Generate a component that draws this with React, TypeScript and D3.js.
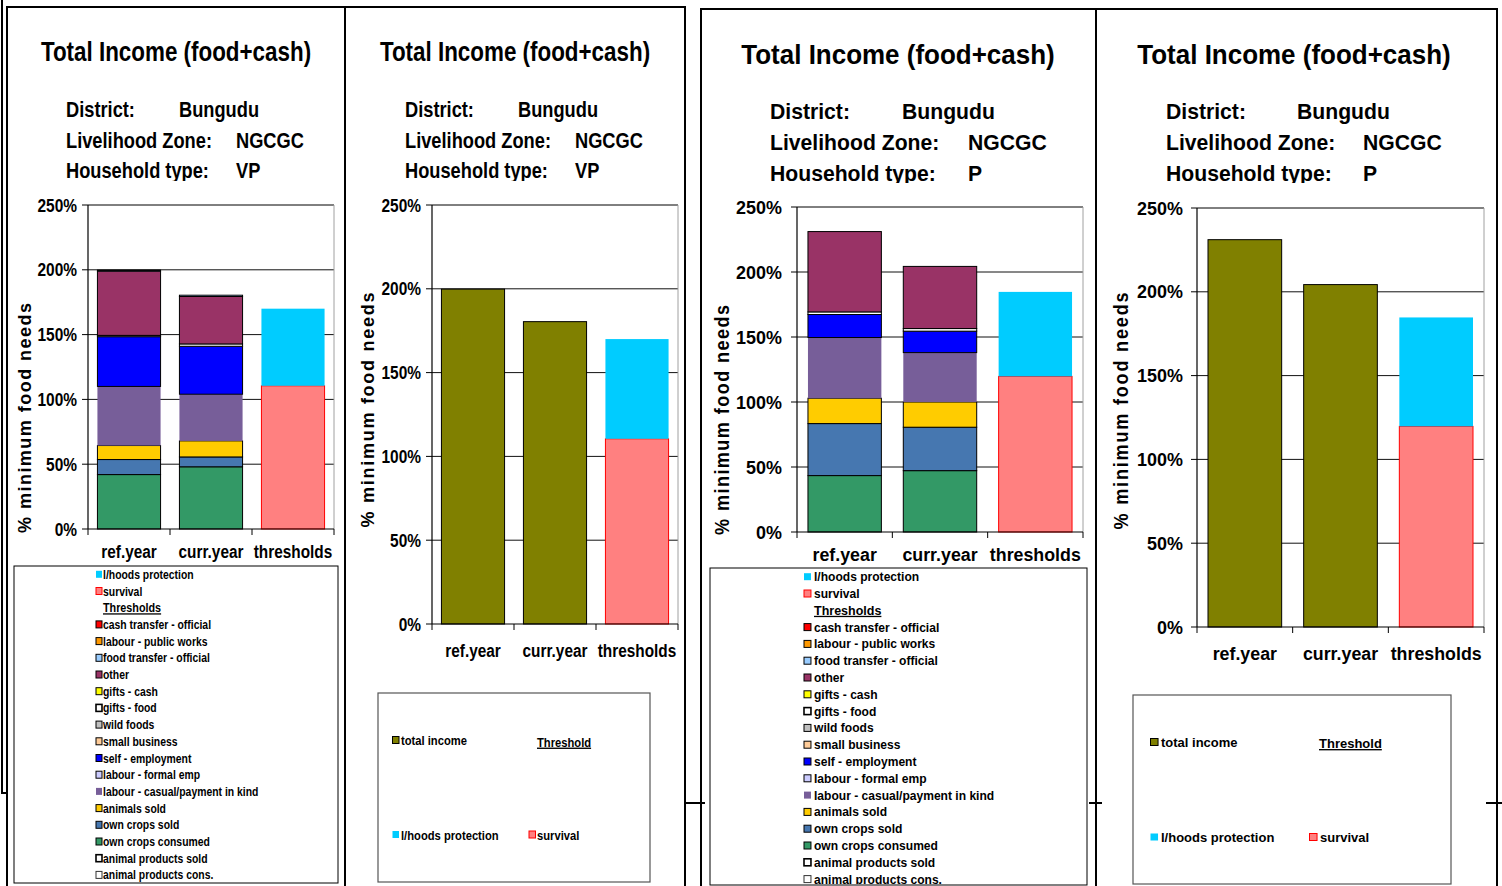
import React from 'react';
import * as d3 from 'd3';

// ---------------- DATA ----------------
const CATEGORIES = ['ref.year', 'curr.year', 'thresholds'];
const TITLE = 'Total Income (food+cash)';
const DISTRICT = 'Bungudu';
const ZONE = 'NGCGC';
const HH_TYPES = ['VP', 'P'];
const Y_TICKS = [0, 50, 100, 150, 200, 250];

// income sources, stacking order bottom -> top
const SOURCES = [
  'animal products cons.', 'animal products sold', 'own crops consumed', 'own crops sold',
  'animals sold', 'labour - casual/payment in kind', 'labour - formal emp', 'self - employment',
  'small business', 'wild foods', 'gifts - food', 'gifts - cash', 'other',
  'food transfer - official', 'labour - public works', 'cash transfer - official',
];
const SOURCE_COLORS = [
  '#FFFFFF', '#FFFFFF', '#339966', '#4677B0',
  '#FFCC00', '#775E99', '#CCCCFF', '#0000FF',
  '#FFCC99', '#C0C0C0', '#FFFFFF', '#FFFF00', '#993366',
  '#99CCFF', '#FF9900', '#FF0000',
];
// % of minimum food needs, same order as SOURCES
const VP_REF = [0, 0, 42, 11.6, 10.8, 45.6, 0, 38.4, 0, 0, 1, 0, 49.6, 0.8, 0, 0];
const VP_CURR = [0, 0, 48, 7.6, 12.4, 36, 0, 37, 0, 0, 1.8, 0, 36.6, 1, 0, 0];
const P_REF = [0, 0, 43.4, 40, 19.5, 46.7, 0, 17.7, 0, 0, 2, 0, 61.8, 0, 0, 0];
const P_CURR = [0, 0, 47.2, 33.4, 19.4, 38, 0, 16.5, 0, 0, 2, 0, 47.8, 0, 0, 0];
// thresholds: [survival, l/hoods protection (on top of survival)]
const VP_THRESH = [110.5, 59.5];
const P_THRESH = [119.7, 65];

const THRESH_KEYS = ['survival', 'l/hoods protection'];
const THRESH_COLORS = ['#FF8080', '#00CCFF'];
const TOTAL_KEY = 'total income';
const TOTAL_COLOR = '#808000';

// legend order (top -> bottom) of the stacked charts
const STACK_LEGEND = ['l/hoods protection', 'survival', '__Thresholds', ...SOURCES.slice().reverse()];

// ---------------- STYLE HELPERS ----------------
const FONT = "'Liberation Sans',Arial,sans-serif";
const NF = 0.83; // narrow-font horizontal compression

function colorOf(key: string) {
  const i = SOURCES.indexOf(key);
  if (i >= 0) return SOURCE_COLORS[i];
  const j = THRESH_KEYS.indexOf(key);
  if (j >= 0) return THRESH_COLORS[j];
  return TOTAL_COLOR;
}
function strokeOf(key: string) {
  if (key === 'l/hoods protection' || key === 'labour - casual/payment in kind') return 'none';
  if (key === 'survival') return '#FF0000';
  return '#000';
}

function T(props: any) {
  const { x, y, sx = 1, nf = NF, anchor = 'start', size = 12, weight = 'bold', children, underline, transform } = props;
  return (
    <text
      transform={transform || `translate(${x},${y}) scale(${sx * nf},1)`}
      textAnchor={anchor}
      fontSize={size}
      fontWeight={weight}
      fontFamily={FONT}
      fill="#000"
      textDecoration={underline ? 'underline' : undefined}
      textLength={props.textLength}
      lengthAdjust={props.textLength ? 'spacing' : undefined}
    >
      {children}
    </text>
  );
}

// ---------------- PANEL ----------------
function Header({ cfg, hh, id }: any) {
  const labels = ['District:', 'Livelihood Zone:', 'Household type:'];
  const vals = [DISTRICT, ZONE, hh];
  return (
    <g>
      <T x={cfg.titleX} y={cfg.titleY} sx={cfg.sx} nf={0.8} anchor="middle" size={28}>{TITLE}</T>
      <clipPath id={id}><rect x={cfg.lx - 10} y={cfg.infoY[0] - 30} width={400} height={cfg.clipY - cfg.infoY[0] + 30} /></clipPath>
      <g clipPath={`url(#${id})`}>
        {labels.map((l, i) => (
          <g key={l}>
            <T x={cfg.lx} y={cfg.infoY[i]} sx={cfg.sx} size={22}>{l}</T>
            <T x={cfg.vx[i]} y={cfg.infoY[i]} sx={cfg.sx} size={22}>{vals[i]}</T>
          </g>
        ))}
      </g>
    </g>
  );
}

function Plot({ cfg, rows, keys }: any) {
  const y = d3.scaleLinear().domain([0, 250]).range([cfg.yBot, cfg.yTop]);
  const x = d3.scaleBand().domain(CATEGORIES).range([cfg.x0, cfg.x1]).paddingInner(0.23).paddingOuter(0.115);
  const stacked = d3.stack().keys(keys)(rows);
  const step = (cfg.x1 - cfg.x0) / CATEGORIES.length;
  const boundaries = d3.range(CATEGORIES.length + 1).map((i) => cfg.x0 + i * step);
  return (
    <g>
      {Y_TICKS.filter((t) => t > 0 && t < 250).map((t) => (
        <line key={t} x1={cfg.x0} x2={cfg.x1} y1={y(t)} y2={y(t)} stroke="#111" strokeWidth={1} />
      ))}
      <line x1={cfg.x0} x2={cfg.x1} y1={y(250)} y2={y(250)} stroke="#000" strokeWidth={1} />
      <line x1={cfg.x1} x2={cfg.x1} y1={y(250)} y2={y(0)} stroke="#A0A0A0" strokeWidth={1} />
      {stacked.map((s: any) => (
        <g key={s.key}>
          {s.map((d: any, i: number) => {
            const h = y(d[0]) - y(d[1]);
            if (h <= 0.01) return null;
            return (
              <rect key={i} x={x(CATEGORIES[i])} width={x.bandwidth()} y={y(d[1])} height={h}
                fill={colorOf(s.key)} stroke={strokeOf(s.key)} strokeWidth={1} />
            );
          })}
        </g>
      ))}
      <line x1={cfg.x0} x2={cfg.x0} y1={y(250)} y2={y(0)} stroke="#000" strokeWidth={1.2} />
      <line x1={cfg.x0} x2={cfg.x1} y1={y(0)} y2={y(0)} stroke="#000" strokeWidth={1.2} />
      {Y_TICKS.map((t) => (
        <g key={t}>
          <line x1={cfg.x0 - 6} x2={cfg.x0} y1={y(t)} y2={y(t)} stroke="#000" />
          <T x={cfg.tickRight} y={y(t) + 6.5} sx={cfg.sx} nf={0.86} anchor="end" size={18}>{`${t}%`}</T>
        </g>
      ))}
      {boundaries.map((b, i) => (
        <line key={i} x1={b} x2={b} y1={y(0)} y2={y(0) + 6} stroke="#000" />
      ))}
      {CATEGORIES.map((c) => (
        <T key={c} x={(x(c) as number) + x.bandwidth() / 2} y={cfg.xLabelY} sx={cfg.sx} anchor="middle" size={18.5}>{c}</T>
      ))}
      <T transform={`translate(${cfg.ytX},${cfg.ytY}) scale(${cfg.sx},1) rotate(-90)`} anchor="middle" size={18}
        textLength={cfg.ytLen}>% minimum food needs</T>
    </g>
  );
}

function Swatch({ x, y, w, key2 }: any) {
  const fill = colorOf(key2);
  let stroke = strokeOf(key2);
  let sw = 1;
  if (key2 === 'gifts - food' || key2 === 'animal products sold') sw = 1.6;
  if (key2 === 'animal products cons.') stroke = '#333';
  return <rect x={x} y={y - 3.5} width={w} height={7} fill={fill} stroke={stroke} strokeWidth={stroke === 'none' ? 0 : sw} />;
}

function StackLegend({ lg, sx, id }: any) {
  return (
    <g>
      <rect x={lg.x} y={lg.y} width={lg.w} height={lg.h} fill="#fff" stroke="#000" strokeWidth={1} />
      <clipPath id={id}><rect x={lg.x} y={lg.y} width={lg.w} height={lg.h - 1} /></clipPath>
      <g clipPath={`url(#${id})`}>
        {STACK_LEGEND.map((k, i) => {
          const cy = lg.y0 + i * lg.step;
          if (k === '__Thresholds') {
            return <T key={k} x={lg.tx} y={cy + 4.5} sx={sx} size={13} underline>Thresholds</T>;
          }
          return (
            <g key={k}>
              <Swatch x={lg.sw} y={cy} w={6 * sx} key2={k} />
              <T x={lg.tx} y={cy + 4.5} sx={sx} nf={0.8} size={13}>{k}</T>
            </g>
          );
        })}
      </g>
    </g>
  );
}

function TotalLegend({ lg, sx }: any) {
  return (
    <g>
      <rect x={lg.x} y={lg.y} width={lg.w} height={lg.h} fill="#fff" stroke="#555" strokeWidth={1.2} />
      <Swatch x={lg.items[0][0]} y={lg.items[0][1]} w={6.5 * sx} key2={TOTAL_KEY} />
      <T x={lg.items[0][2]} y={lg.items[0][1] + 5} sx={sx} size={13.5}>{TOTAL_KEY}</T>
      <T x={lg.items[1][2]} y={lg.items[1][1] + 5} sx={sx} size={13.5} underline>Threshold</T>
      <Swatch x={lg.items[2][0]} y={lg.items[2][1]} w={6.5 * sx} key2="l/hoods protection" />
      <T x={lg.items[2][2]} y={lg.items[2][1] + 5} sx={sx} size={13.5}>l/hoods protection</T>
      <Swatch x={lg.items[3][0]} y={lg.items[3][1]} w={6.5 * sx} key2="survival" />
      <T x={lg.items[3][2]} y={lg.items[3][1] + 5} sx={sx} size={13.5}>survival</T>
    </g>
  );
}

function stackRows(ref: number[], curr: number[], thr: number[]) {
  const mk = (cat: string, vals: number[] | null, t: number[] | null) => {
    const o: any = { cat };
    SOURCES.forEach((s, i) => (o[s] = vals ? vals[i] : 0));
    THRESH_KEYS.forEach((k, i) => (o[k] = t ? t[i] : 0));
    return o;
  };
  return [mk(CATEGORIES[0], ref, null), mk(CATEGORIES[1], curr, null), mk(CATEGORIES[2], null, thr)];
}
function totalRows(ref: number[], curr: number[], thr: number[]) {
  const mk = (cat: string, tot: number, t: number[] | null) => {
    const o: any = { cat };
    o[TOTAL_KEY] = tot;
    THRESH_KEYS.forEach((k, i) => (o[k] = t ? t[i] : 0));
    return o;
  };
  return [mk(CATEGORIES[0], d3.sum(ref), null), mk(CATEGORIES[1], d3.sum(curr), null), mk(CATEGORIES[2], 0, thr)];
}

// ---------------- LAYOUT ----------------
const P1 = { sx: 1, titleX: 176, titleY: 61, lx: 66, vx: [179, 236, 236], infoY: [117, 148, 178], clipY: 181,
  x0: 88, x1: 334, yTop: 205, yBot: 529, tickRight: 77, ytX: 31, ytY: 418, ytLen: 230, xLabelY: 558 };
const P2 = { sx: 1, titleX: 515, titleY: 61, lx: 405, vx: [518, 575, 575], infoY: [117, 148, 178], clipY: 181,
  x0: 432, x1: 678, yTop: 205, yBot: 624, tickRight: 421, ytX: 374, ytY: 410, ytLen: 235, xLabelY: 657 };
const P3 = { sx: 1.16, titleX: 898, titleY: 64, lx: 770, vx: [902, 968, 968], infoY: [119, 150, 181], clipY: 183,
  x0: 797, x1: 1083, yTop: 207, yBot: 532, tickRight: 782, ytX: 729, ytY: 420, ytLen: 230, xLabelY: 561 };
const P4 = { sx: 1.16, titleX: 1294, titleY: 64, lx: 1166, vx: [1297, 1363, 1363], infoY: [119, 150, 181], clipY: 183,
  x0: 1197, x1: 1484, yTop: 208, yBot: 627, tickRight: 1183, ytX: 1128, ytY: 411, ytLen: 237, xLabelY: 660 };

const L1 = { x: 14, y: 566, w: 324, h: 317, sw: 96, tx: 103, y0: 574.3, step: 16.7 };
const L3 = { x: 710, y: 568, w: 377, h: 317, sw: 804, tx: 814, y0: 576.7, step: 16.8 };
const TL2 = { x: 378, y: 693, w: 272, h: 189, items: [[392.5, 740, 401], [0, 741.5, 537], [392.5, 834.5, 401], [529, 834.5, 537]] };
const TL4 = { x: 1133, y: 695, w: 318, h: 189, items: [[1150.5, 742, 1161], [0, 743, 1319], [1150.5, 837, 1161], [1309.5, 837, 1320]] };

export default function App() {
  const keysStack = [...SOURCES, ...THRESH_KEYS];
  const keysTotal = [TOTAL_KEY, ...THRESH_KEYS];
  return (
    <svg width={1502} height={886} style={{ position: 'absolute', left: 0, top: 0, background: '#fff' }}>
      <rect x={0} y={0} width={1502} height={886} fill="#fff" />
      {/* frames */}
      <g stroke="#000" strokeWidth={2} fill="none">
        <path d="M2,0 V793 H7" />
        <line x1={7} y1={6} x2={7} y2={886} />
        <line x1={6} y1={7} x2={686} y2={7} />
        <line x1={345} y1={7} x2={345} y2={886} />
        <line x1={685} y1={7} x2={685} y2={886} />
        <line x1={701} y1={8} x2={701} y2={886} />
        <line x1={700} y1={9} x2={1498} y2={9} />
        <line x1={1096} y1={9} x2={1096} y2={886} />
        <line x1={1497} y1={9} x2={1497} y2={886} />
        <line x1={686} y1={803} x2={705} y2={803} />
        <line x1={1089} y1={803} x2={1102} y2={803} />
        <line x1={1486} y1={803} x2={1502} y2={803} />
      </g>

      <Header cfg={P1} hh={HH_TYPES[0]} id="c1" />
      <Plot cfg={P1} rows={stackRows(VP_REF, VP_CURR, VP_THRESH)} keys={keysStack} />
      <StackLegend lg={L1} sx={1} id="l1" />

      <Header cfg={P2} hh={HH_TYPES[0]} id="c2" />
      <Plot cfg={P2} rows={totalRows(VP_REF, VP_CURR, VP_THRESH)} keys={keysTotal} />
      <TotalLegend lg={TL2} sx={1} />

      <Header cfg={P3} hh={HH_TYPES[1]} id="c3" />
      <Plot cfg={P3} rows={stackRows(P_REF, P_CURR, P_THRESH)} keys={keysStack} />
      <StackLegend lg={L3} sx={1.16} id="l3" />

      <Header cfg={P4} hh={HH_TYPES[1]} id="c4" />
      <Plot cfg={P4} rows={totalRows(P_REF, P_CURR, P_THRESH)} keys={keysTotal} />
      <TotalLegend lg={TL4} sx={1.16} />
    </svg>
  );
}
